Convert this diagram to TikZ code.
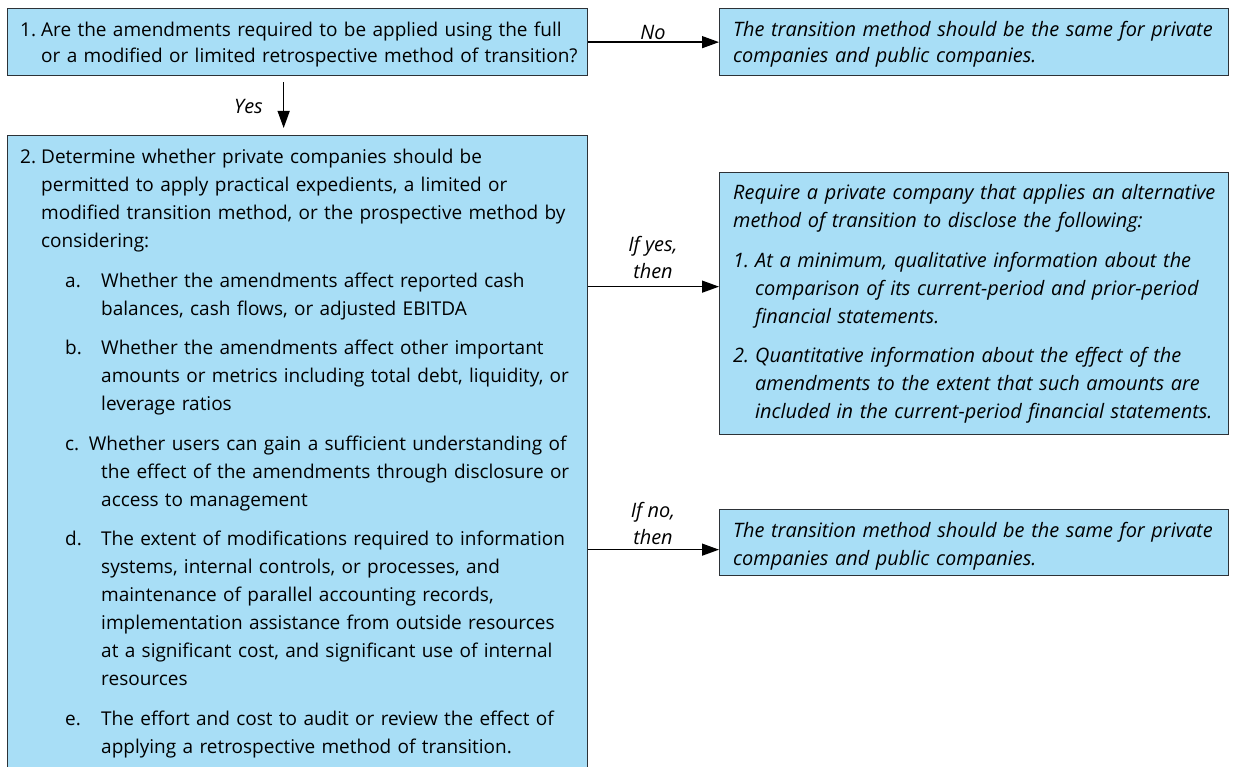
\documentclass[tikz,border=0pt]{standalone}
\usepackage{fontspec}
\setmainfont{Open Sans}
\usetikzlibrary{arrows.meta,calc}
\definecolor{boxfill}{RGB}{168,222,246}
\definecolor{boxline}{RGB}{45,50,55}
\begin{document}
\begin{tikzpicture}[x=1pt,y=-1pt,
  box/.style={draw=boxline, line width=1.3pt, fill=boxfill, rectangle,
    inner sep=0pt, anchor=north west},
  txt/.style={anchor=base west, inner sep=0pt, text width=600pt,
    font=\fontsize{19}{28}\selectfont},
  itxt/.style={txt, font=\fontsize{19.9}{28}\selectfont\itshape},
  lbl/.style={inner sep=0pt, align=center,
    font=\fontsize{19.9}{27}\selectfont\itshape},
  arr/.style={line width=1.3pt, -{Triangle[length=17pt,width=12pt]}}]
\useasboundingbox (0,0) rectangle (1233,767);

% boxes
\node[box, minimum width=580pt, minimum height=67pt]  (q1) at (7,8) {};
\node[box, minimum width=580pt, minimum height=640pt] (q2) at (7,135) {};
\node[box, minimum width=509pt, minimum height=67pt]  (r1) at (719,8) {};
\node[box, minimum width=509pt, minimum height=262pt] (r2) at (719,172) {};
\node[box, minimum width=509pt, minimum height=66pt]  (r3) at (719,509) {};

% question 1
\node[txt, font=\fontsize{19}{26}\selectfont] (q1t) at (20,37) {%
  \parindent=0pt\hangindent=21pt\hangafter=1
  \makebox[21pt][l]{1.}Are the amendments required to be applied using the full\newline
  or a modified or limited retrospective method of transition?\par};

% question 2
\node[txt] (q2t) at (20,164) {%
  \parindent=0pt\parskip=11.5pt
  \hangindent=21pt\hangafter=1
  \makebox[21pt][l]{2.}Determine whether private companies should be\newline
  permitted to apply practical expedients, a limited or\newline
  modified transition method, or the prospective method by\newline
  considering:\par
  \hangindent=81pt\hangafter=1
  \hspace*{45pt}\makebox[36pt][l]{a.}Whether the amendments affect reported cash\newline
  balances, cash flows, or adjusted EBITDA\par
  \hangindent=81pt\hangafter=1
  \hspace*{45pt}\makebox[36pt][l]{b.}Whether the amendments affect other important\newline
  amounts or metrics including total debt, liquidity, or\newline
  leverage ratios\par
  \hangindent=81pt\hangafter=1
  \hspace*{45pt}c. Whether users can gain a sufficient understanding of\newline
  the effect of the amendments through disclosure or\newline
  access to management\par
  \hangindent=81pt\hangafter=1
  \hspace*{45pt}\makebox[36pt][l]{d.}The extent of modifications required to information\newline
  systems, internal controls, or processes, and\newline
  maintenance of parallel accounting records,\newline
  implementation assistance from outside resources\newline
  at a significant cost, and significant use of internal\newline
  resources\par
  \hangindent=81pt\hangafter=1
  \hspace*{45pt}\makebox[36pt][l]{e.}The effort and cost to audit or review the effect of\newline
  applying a retrospective method of transition.\par};

% outcomes
\node[itxt, font=\fontsize{19.9}{26}\selectfont\itshape] (r1t) at (733,37) {%
  \parindent=0pt
  The transition method should be the same for private\newline
  companies and public companies.\par};

\node[itxt] (r2t) at (733,200) {%
  \parindent=0pt\parskip=11.5pt
  Require a private company that applies an alternative\newline
  method of transition to disclose the following:\par
  \hangindent=22pt\hangafter=1
  \makebox[22pt][l]{1.}At a minimum, qualitative information about the\newline
  comparison of its current-period and prior-period\newline
  financial statements.\par
  \hangindent=22pt\hangafter=1
  \makebox[22pt][l]{2.}Quantitative information about the effect of the\newline
  amendments to the extent that such amounts are\newline
  included in the current-period financial statements.\par};

\node[itxt] (r3t) at (733,537) {%
  \parindent=0pt
  The transition method should be the same for private\newline
  companies and public companies.\par};

% connectors
\draw[arr] (q1.east) -- (r1.west);
\coordinate (yesx) at ([xshift=-14pt]q1.south);
\draw[arr, shorten <=6pt, shorten >=7pt] (yesx) -- (yesx |- q2.north);
\coordinate (ifyes) at ([yshift=17pt]r2.west);
\draw[arr] (ifyes -| q2.east) -- (ifyes);
\coordinate (ifno) at ([yshift=-7pt]r3.west);
\draw[arr] (ifno -| q2.east) -- (ifno);

% connector labels
\node[lbl] (lno) at (653,32) {No};
\node[lbl, anchor=east] (lyes) at (263,106) {Yes};
\node[lbl] (lifyes) at (653,257) {If yes,\\then};
\node[lbl] (lifno) at (653,523) {If no,\\then};
\end{tikzpicture}
\end{document}
